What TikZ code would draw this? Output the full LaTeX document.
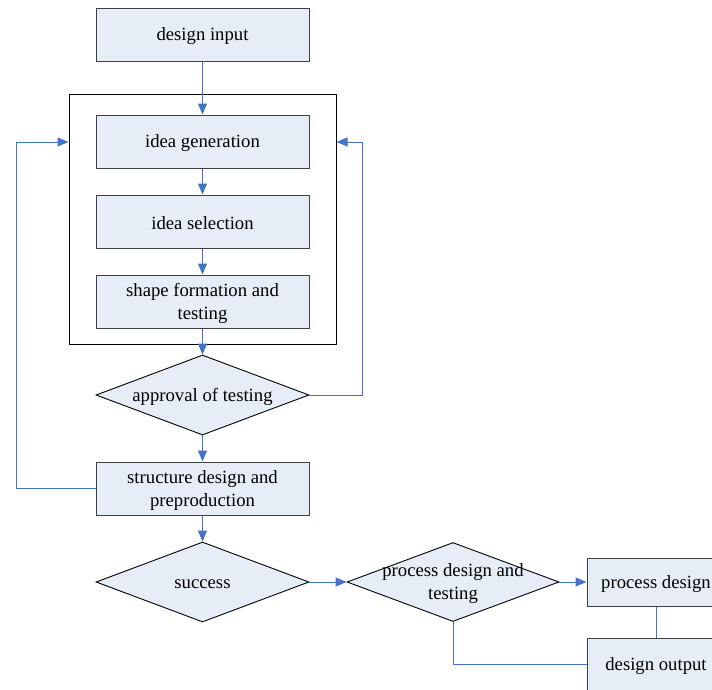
\documentclass[tikz,border=0pt]{standalone}
\usepackage{fontspec}
\setmainfont{Liberation Serif}
\usetikzlibrary{shapes.geometric,arrows.meta}
\definecolor{boxfill}{HTML}{E6EDF7}
\definecolor{boxline}{HTML}{404040}
\definecolor{arrblue}{HTML}{4472C4}
\tikzset{
  txt/.style={font=\fontsize{18.7}{23}\selectfont, align=center, text=black, yshift=-2pt},
  stepbox/.style={draw=boxline, line width=1pt, fill=boxfill, minimum width=213pt, minimum height=53pt, inner sep=0pt},
  dia/.style={diamond, draw=black, line width=0.9pt, fill=boxfill, minimum width=213pt, minimum height=80pt, inner sep=0pt, aspect=2.66},
  frm/.style={draw=black, line width=1pt, minimum width=267pt, minimum height=250pt, inner sep=0pt},
  conn/.style={draw=arrblue, line width=1pt},
  arr/.style={conn, -{Triangle[length=11pt,width=9pt]}}
}
\begin{document}
\begin{tikzpicture}[x=1pt,y=-1pt]
\useasboundingbox (0,0) rectangle (712,689);
\node[frm] (fr) at (202.5,219) {};
\node[stepbox, label={[txt]center:design input}] (di) at (202.5,34.5) {};
\node[stepbox, label={[txt]center:idea generation}] (ig) at (202.5,141.5) {};
\node[stepbox, label={[txt]center:idea selection}] (is) at (202.5,221.5) {};
\node[stepbox, label={[txt]center:shape formation and\\testing}] (sf) at (202.5,301.5) {};
\node[dia, label={[txt]center:approval of testing}] (ap) at (202.5,395) {};
\node[stepbox, label={[txt]center:structure design and\\preproduction}] (sd) at (202.5,488.5) {};
\node[dia, label={[txt]center:success}] (su) at (202.5,582) {};
\node[dia, minimum width=212pt, minimum height=79pt, label={[txt]center:process design and\\testing}] (pd) at (453,582) {};
\node[stepbox, minimum width=138pt, minimum height=48pt, label={[txt]center:process design}] (pb) at (656,582) {};
\node[stepbox, minimum width=138pt, minimum height=53pt, label={[txt]center:design output}] (do) at (656,664.5) {};
\coordinate (ll) at (16,142);
\coordinate (rl) at (362,142);
\draw[arr] (di.south) -- (ig.north);
\draw[arr] (ig.south) -- (is.north);
\draw[arr] (is.south) -- (sf.north);
\draw[arr] (sf.south) -- (ap.north);
\draw[arr] (ap.south) -- (sd.north);
\draw[arr] (sd.south) -- (su.north);
\draw[arr] (su.east) -- (pd.west);
\draw[arr] (pd.east) -- (pb.west);
\draw[conn] (pb.south) -- (do.north);
\draw[conn] (pd.south) |- (do.west);
\draw[arr] (sd.west) -| (ll) -- (fr.west |- ll);
\draw[arr] (ap.east) -| (rl) -- (fr.east |- rl);
\end{tikzpicture}
\end{document}
